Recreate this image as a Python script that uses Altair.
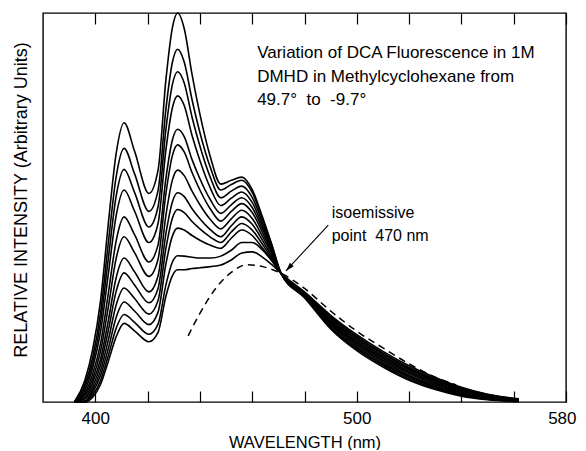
import altair as alt
import pandas as pd

# ---- data (relative intensity 0-100, wavelength nm) ----
WL = [392, 396, 399, 402, 405, 408, 411, 415, 420.5, 424, 427, 429.5, 431.5,
      434, 437, 440, 444, 448, 452, 456, 460, 464, 467.5, 471,
      480, 490, 500, 510, 520, 530, 540, 550, 562]

C1 = [0, 5.5, 13.5, 26, 46, 64, 71.8, 64.5, 53.6, 59.6, 82.8, 96.3, 100, 96.0, 84.2, 74.0, 63.0, 56.0, 57.0, 57.8, 54.6, 47.4, 40.5, 33.1,
      26.8, 18.8, 13.2, 9.0, 5.6, 3.2, 1.5, 0.6, 0.1]
C2 = [0, 4.5, 11.5, 23, 41, 58, 65.2, 58.7, 49.0, 54.4, 75.3, 87.4, 90.7, 87.4, 77.7, 69.3, 60.3, 54.5, 55.9, 57.0, 53.9, 47.0, 40.3, 33.1,
      26.9, 19.1, 13.6, 9.4, 5.9, 3.5, 1.7, 0.7, 0.2]
C3 = [0, 3.8, 10, 20.5, 37, 53, 59.8, 53.9, 45.0, 50.2, 70.1, 81.7, 84.9, 82.0, 73.2, 65.8, 57.7, 52.5, 54.2, 55.5, 52.6, 46.1, 39.8, 33.1,
      27.1, 19.4, 13.9, 9.7, 6.3, 3.8, 1.9, 0.9, 0.2]
C4 = [0, 3.0, 8.8, 18, 33, 48, 54.5, 49.1, 41.0, 45.9, 64.8, 75.7, 78.7, 76.2, 68.5, 62.1, 55.0, 50.5, 52.4, 54.0, 51.3, 45.2, 39.4, 33.1,
      27.2, 19.8, 14.3, 10.1, 6.6, 4.0, 2.1, 1.0, 0.3]
C5 = [0, 2.3, 7.2, 15, 28, 41.5, 47.6, 43.0, 36.0, 40.4, 57.5, 67.4, 70.1, 68.2, 62.3, 57.4, 52.0, 48.5, 50.7, 52.5, 50.0, 44.4, 38.9, 33.1,
      27.3, 20.1, 14.7, 10.5, 6.9, 4.3, 2.3, 1.1, 0.4]
C6 = [0, 1.8, 6.0, 13, 24.5, 37, 42.5, 38.4, 32.3, 36.7, 53.6, 63.4, 66.1, 64.3, 59.0, 54.5, 49.6, 46.5, 49.0, 51.0, 48.7, 43.5, 38.5, 33.1,
      27.5, 20.4, 15.1, 10.8, 7.3, 4.6, 2.5, 1.2, 0.4]
C7 = [0, 1.2, 5.0, 11, 21, 32, 37.0, 33.5, 28.3, 32.4, 48.0, 57.1, 59.6, 58.2, 54.2, 50.7, 46.9, 44.5, 47.1, 49.3, 47.2, 42.5, 38.0, 33.1,
      27.6, 20.7, 15.4, 11.2, 7.6, 4.9, 2.8, 1.4, 0.5]
C8 = [0, 0.8, 4.0, 9.5, 18.5, 28.5, 33.2, 30.1, 25.5, 29.2, 43.3, 51.5, 53.8, 52.8, 49.7, 47.1, 44.3, 42.5, 45.3, 47.6, 45.7, 41.5, 37.4, 33.1,
      27.8, 21.0, 15.8, 11.5, 7.9, 5.2, 3.0, 1.5, 0.5]
C9 = [0, 0.3, 3.2, 8.0, 16, 25, 29.3, 26.6, 22.6, 26.1, 39.5, 47.3, 49.5, 48.7, 46.4, 44.5, 42.4, 41.0, 43.7, 45.9, 44.2, 40.5, 36.9, 33.1,
      27.9, 21.3, 16.2, 11.9, 8.3, 5.5, 3.2, 1.6, 0.6]
C10 = [0, 0, 2.5, 6.8, 13.8, 21.8, 25.7, 23.4, 19.9, 23.1, 35.5, 42.7, 44.7, 44.2, 42.8, 41.6, 40.3, 39.5, 42.1, 44.2, 42.8, 39.5, 36.4, 33.1,
       28.0, 21.7, 16.6, 12.3, 8.6, 5.7, 3.4, 1.7, 0.7]
C11 = [0, 0, 1.8, 5.5, 12, 19, 22.5, 20.5, 17.4, 20.0, 30.1, 36.0, 37.6, 37.5, 37.2, 37.0, 37.0, 37.5, 39.0, 41.0, 41.0, 39.0, 36.3, 33.1,
       28.2, 22.0, 16.9, 12.6, 8.9, 6.0, 3.6, 1.9, 0.7]
C12 = [0, 0, 1.2, 4.5, 10.5, 16.8, 20.2, 18.3, 15.5, 17.9, 27.2, 32.5, 34.0, 34.0, 34.3, 34.5, 34.8, 35.2, 36.5, 38.3, 38.6, 37.2, 35.3, 33.1,
       28.3, 22.3, 17.3, 13.0, 9.3, 6.3, 3.8, 2.0, 0.8]

DASH_WL = [435.5, 440, 446.5, 452, 458, 464, 471, 480, 490, 500, 510, 520, 530, 538]
DASH_V = [17.0, 22.8, 29.6, 33.3, 35.3, 34.8, 33.1, 29.2, 23.4, 18.2, 13.9, 9.8, 6.4, 4.4]

TICKS = [400, 420, 440, 460, 480, 500, 520, 540, 560, 580]
TICK_LABELS = [400, 500, 580]

X_TITLE = "WAVELENGTH (nm)"
Y_TITLE = "RELATIVE INTENSITY (Arbitrary Units)"

NOTE_TEXT = ["Variation of DCA Fluorescence in 1M",
             "DMHD in Methylcyclohexane from",
             "49.7°\u00a0\u00a0to\u00a0\u00a0-9.7°"]
NOTE_X = [461.9, 461.9, 461.9]
NOTE_Y = [89.6, 83.6, 77.6]

ISO_TEXT = ["isoemissive", "point\u00a0\u00a0470\u00a0nm"]
ISO_X = [490.4, 490.4]
ISO_Y = [48.6, 42.7]

ARROW_WL = [489.1, 472.9]
ARROW_V = [45.5, 33.7]

FONT = "Liberation Sans, Arial, sans-serif"
W, H = 523, 389

# ---- tables ----
curves = [C1, C2, C3, C4, C5, C6, C7, C8, C9, C10, C11, C12]
rows = []
for i, vals in enumerate(curves):
    for w, v in zip(WL, vals):
        rows.append({"wl": w, "v": v, "curve": f"c{i+1}"})
df = pd.DataFrame(rows)
dash_df = pd.DataFrame({"wl": DASH_WL, "v": DASH_V})
note_df = pd.DataFrame({"wl": NOTE_X, "v": NOTE_Y, "t": NOTE_TEXT})
iso_df = pd.DataFrame({"wl": ISO_X, "v": ISO_Y, "t": ISO_TEXT})
arrow_df = pd.DataFrame({"wl": ARROW_WL, "v": ARROW_V})
head_df = pd.DataFrame({"wl": [ARROW_WL[-1]], "v": [ARROW_V[-1]]})
ytitle_df = pd.DataFrame({"t": [Y_TITLE]})

xs = alt.Scale(domain=[380, 580], nice=False, zero=False)
ys = alt.Scale(domain=[0, 100], nice=False, zero=True)

label_expr = " || ".join(f"datum.value == {t}" for t in TICK_LABELS)

solid = alt.Chart(df).mark_line(interpolate="monotone", color="black", strokeWidth=1.6).encode(
    x=alt.X("wl:Q", scale=xs, axis=alt.Axis(
        values=TICKS, tickSize=11, offset=-11, domain=False, grid=False,
        tickColor="black", tickWidth=1.2,
        labelExpr=f"({label_expr}) ? datum.value : ''",
        labelPadding=8, labelFontSize=17, labelFont=FONT, labelColor="black",
        labelFlush=4, labelFlushOffset=10,
        title=X_TITLE, titleFontSize=16.5, titleFont=FONT,
        titleFontWeight="normal", titleColor="black", titlePadding=8)),
    y=alt.Y("v:Q", scale=ys, axis=None),
    detail="curve:N",
)

dashed = alt.Chart(dash_df).mark_line(interpolate="monotone", color="black",
                                       strokeWidth=1.5, strokeDash=[7, 5]).encode(
    x=alt.X("wl:Q", scale=xs, axis=alt.Axis(
        orient="top", values=TICKS, tickSize=11, offset=-11, labels=False,
        domain=False, grid=False, title=None, tickColor="black", tickWidth=1.2)),
    y=alt.Y("v:Q", scale=ys, axis=None),
)

notes = alt.Chart(note_df).mark_text(align="left", baseline="middle", font=FONT,
                                      fontSize=17, color="black").encode(
    x=alt.X("wl:Q", scale=xs, axis=None),
    y=alt.Y("v:Q", scale=ys, axis=None),
    text="t:N",
)

iso = alt.Chart(iso_df).mark_text(align="left", baseline="middle", font=FONT,
                                   fontSize=16, color="black").encode(
    x=alt.X("wl:Q", scale=xs, axis=None),
    y=alt.Y("v:Q", scale=ys, axis=None),
    text="t:N",
)

arrow = alt.Chart(arrow_df).mark_line(color="black", strokeWidth=1.1).encode(
    x=alt.X("wl:Q", scale=xs, axis=None),
    y=alt.Y("v:Q", scale=ys, axis=None),
)

head = alt.Chart(head_df).mark_point(
    shape="M0,0 L-0.3,1 L0.3,1 Z", filled=True, color="black", size=300,
    angle=223, opacity=1).encode(
    x=alt.X("wl:Q", scale=xs, axis=None),
    y=alt.Y("v:Q", scale=ys, axis=None),
)

# y-axis title as a rotated text beside the frame
ytitle = alt.Chart(ytitle_df).mark_text(
    angle=270, align="center", baseline="middle", font=FONT, fontSize=18,
    color="black").encode(
    x=alt.value(-21), y=alt.value(187), text="t:N")

chart = alt.layer(solid, dashed, notes, iso, arrow, head, ytitle).resolve_axis(
    x="independent"
).properties(
    width=W, height=H,
    padding={"left": 35, "top": 5, "right": 12, "bottom": 48},
    autosize=alt.AutoSizeParams(type="none"),
    background="white",
).configure_view(stroke="black", strokeWidth=1.4)

chart.save("out.html", embed_options={"renderer": "svg", "actions": False})
